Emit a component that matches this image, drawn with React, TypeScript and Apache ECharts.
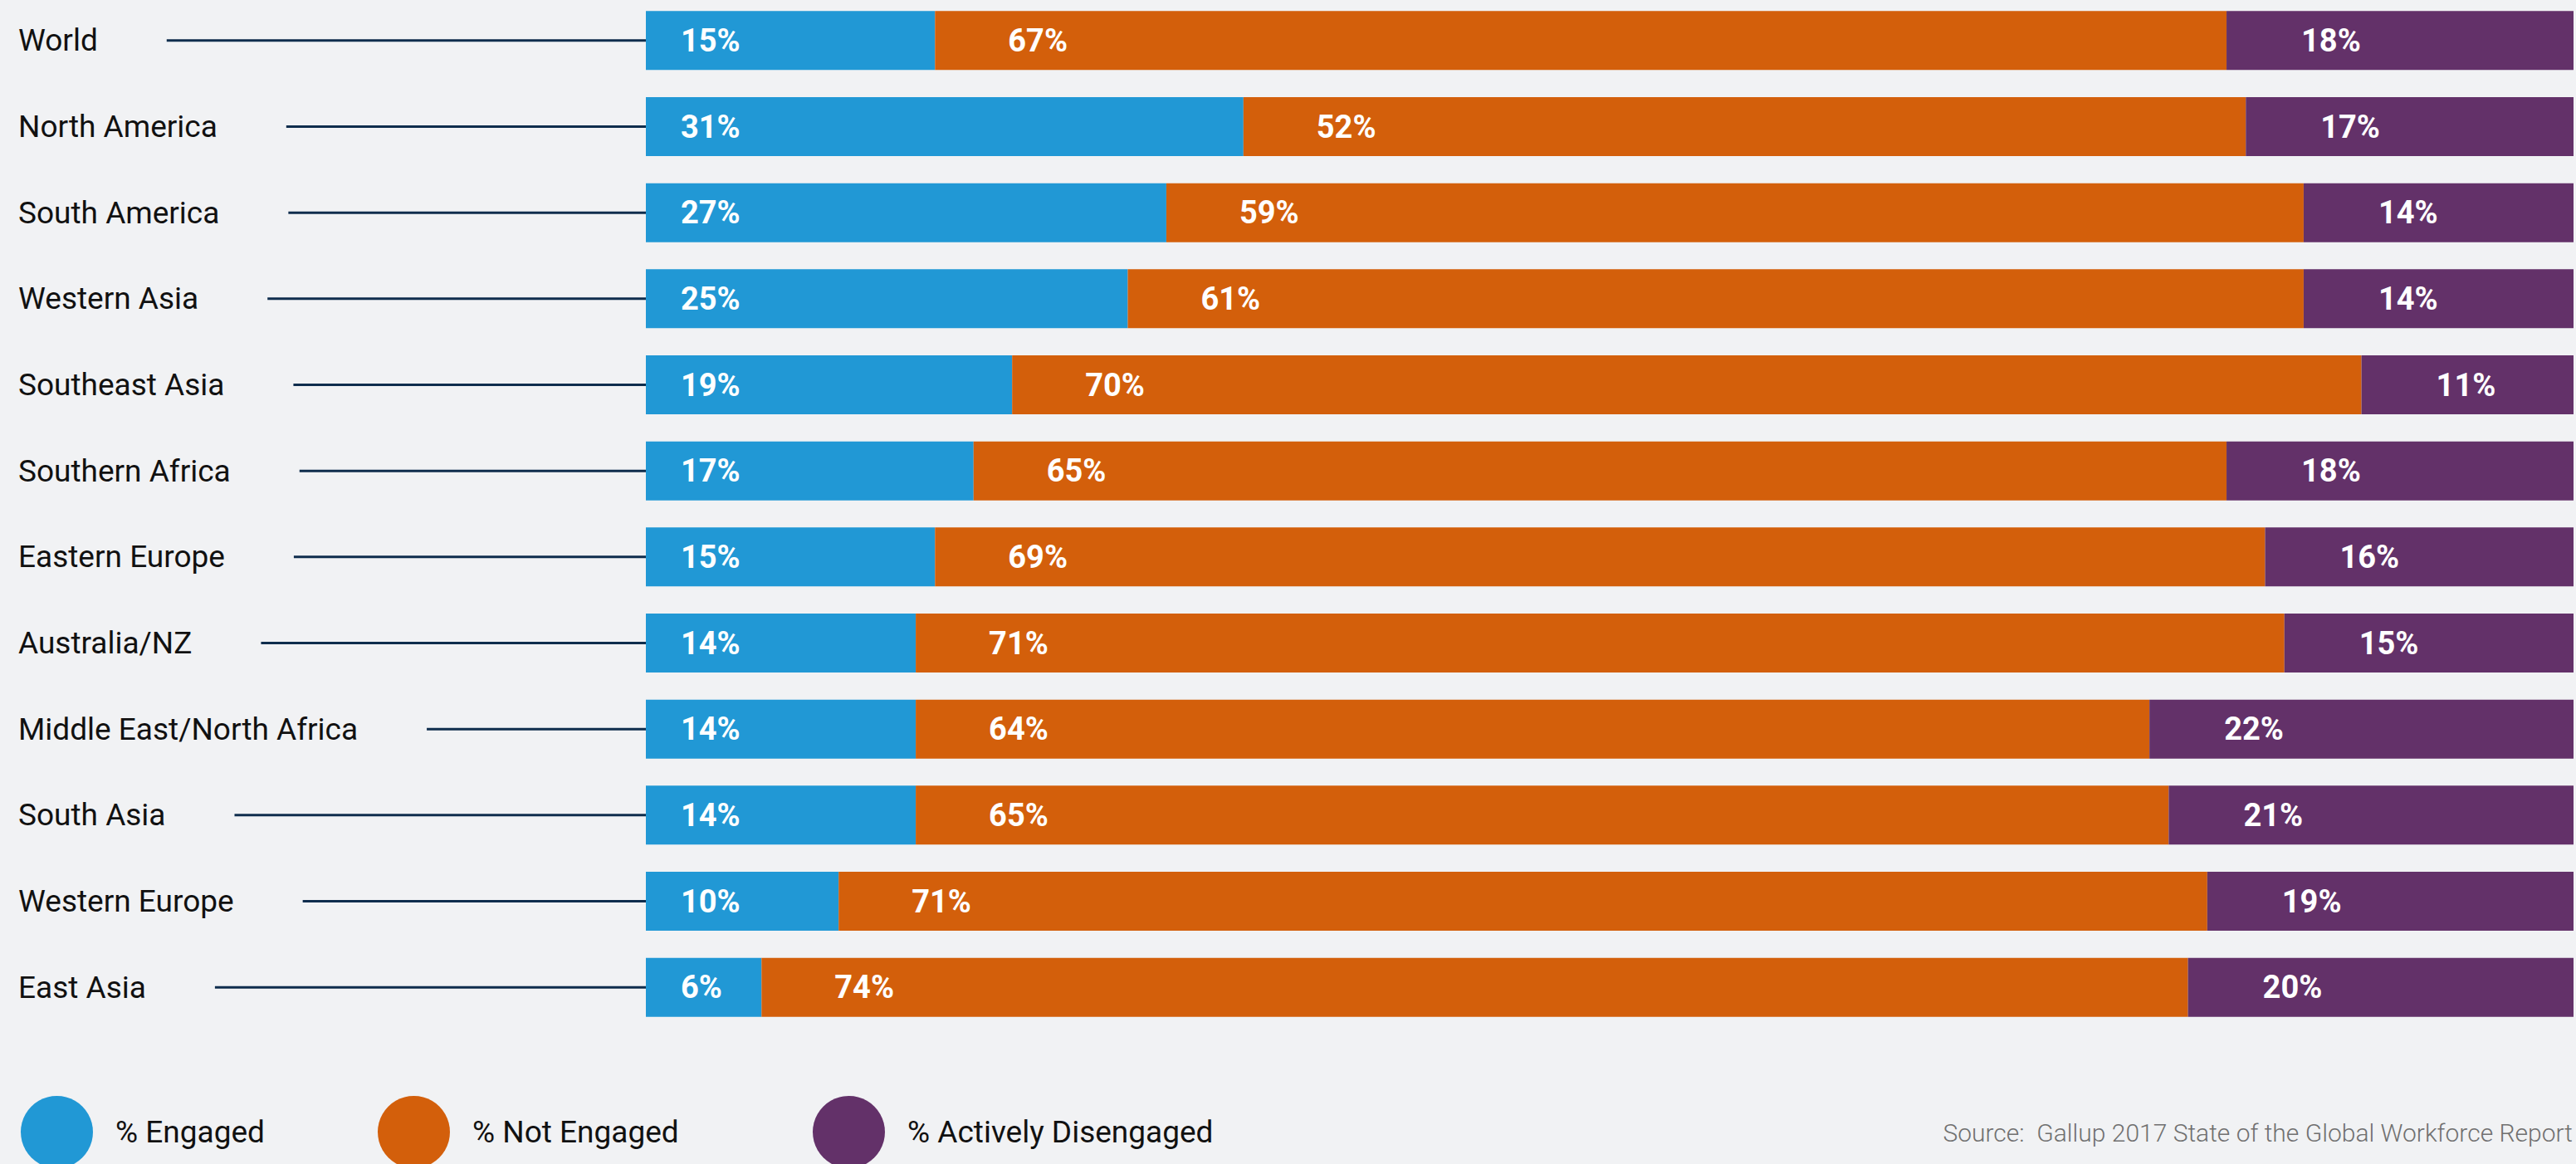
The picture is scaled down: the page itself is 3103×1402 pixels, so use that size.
import React, { useEffect, useRef } from "react";
import * as echarts from "echarts";

const categories = [
  "World",
  "North America",
  "South America",
  "Western Asia",
  "Southeast Asia",
  "Southern Africa",
  "Eastern Europe",
  "Australia/NZ",
  "Middle East/North Africa",
  "South Asia",
  "Western Europe",
  "East Asia",
];
const engaged = [15, 31, 27, 25, 19, 17, 15, 14, 14, 14, 10, 6];
const notEngaged = [67, 52, 59, 61, 70, 65, 69, 71, 64, 65, 71, 74];
const activelyDisengaged = [18, 17, 14, 14, 11, 18, 16, 15, 22, 21, 19, 20];
const seriesNames = ["% Engaged", "% Not Engaged", "% Actively Disengaged"];
const sourceText = "Source:  Gallup 2017 State of the Global Workforce Report";

const BLUE = "#2198d5";
const ORANGE = "#d35f0b";
const PURPLE = "#633169";
const BG = "#f1f2f4";
const LINE = "#0f2d4d";

const W = 3103;
const H = 1402;
const GRID_LEFT = 778;
const LABEL_START = 22;
const NAME_GAP = 83;
const CAT_FONT = 37;

export default function App() {
  const ref = useRef<HTMLDivElement>(null);

  useEffect(() => {
    document.body.style.margin = "0";
    document.body.style.background = BG;
    if (!ref.current) return;
    const chart = echarts.init(ref.current, null, { renderer: "svg", width: W, height: H });

    const canvas = document.createElement("canvas");
    const ctx = canvas.getContext("2d")!;
    ctx.font = `normal normal ${CAT_FONT}px Roboto`;
    const rich: Record<string, any> = {
      n: { fontSize: CAT_FONT, fontFamily: "Roboto", color: "#111111", verticalAlign: "middle" },
      g: { width: NAME_GAP, height: 3 },
    };
    categories.forEach((c, i) => {
      const w = ctx.measureText(c).width;
      rich["l" + i] = {
        width: Math.max(0, GRID_LEFT - LABEL_START - w - NAME_GAP),
        height: 3,
        backgroundColor: LINE,
        verticalAlign: "middle",
      };
    });

    const labelBase = {
      show: true,
      position: "insideLeft" as const,
      color: "#ffffff",
      fontFamily: "Roboto",
      fontWeight: "bold" as const,
      fontSize: 38,
      formatter: "{c}%",
    };

    const legendCommon = (name: string, left: number) => ({
      data: [name],
      left,
      top: 1315,
      orient: "horizontal",
      icon: "circle",
      itemWidth: 87,
      itemHeight: 87,
      selectedMode: false,
      formatter: "{g|}{name}",
      textStyle: {
        fontFamily: "Roboto",
        fontSize: 37,
        color: "#111111",
        rich: { g: { width: 22, height: 2 } },
      },
    });

    chart.setOption({
      animation: false,
      backgroundColor: BG,
      grid: {
        left: GRID_LEFT,
        right: W - 3100,
        top: -3,
        height: 1244,
        containLabel: false,
        outerBoundsMode: "none",
      },
      xAxis: { type: "value", min: 0, max: 100, show: false },
      yAxis: {
        type: "category",
        data: categories,
        inverse: true,
        axisLine: { show: false },
        axisTick: { show: false },
        splitLine: { show: false },
        axisLabel: {
          interval: 0,
          margin: 0,
          align: "right",
          formatter: (value: string, index: number) => `{n|${value}}{g|}{l${index}|}`,
          rich,
        },
      },
      legend: [
        legendCommon(seriesNames[0], 20),
        legendCommon(seriesNames[1], 450),
        legendCommon(seriesNames[2], 974),
      ],
      series: [
        {
          name: seriesNames[0],
          type: "bar",
          stack: "total",
          barWidth: 71,
          data: engaged,
          itemStyle: { color: BLUE },
          label: { ...labelBase, distance: 42 },
        },
        {
          name: seriesNames[1],
          type: "bar",
          stack: "total",
          barWidth: 71,
          data: notEngaged,
          itemStyle: { color: ORANGE },
          label: { ...labelBase, distance: 88 },
        },
        {
          name: seriesNames[2],
          type: "bar",
          stack: "total",
          barWidth: 71,
          data: activelyDisengaged,
          itemStyle: { color: PURPLE },
          label: { ...labelBase, distance: 90 },
        },
      ],
      graphic: [
        {
          type: "text",
          x: 3099,
          y: 1364,
          style: {
            text: sourceText,
            fill: "#707070",
            fontFamily: "Roboto",
            fontWeight: 300,
            fontSize: 30,
            textAlign: "right",
            textVerticalAlign: "middle",
          },
        },
      ],
    });

    return () => {
      chart.dispose();
    };
  }, []);

  return (
    <div
      ref={ref}
      style={{ position: "absolute", left: 0, top: 0, width: W, height: H, background: BG }}
    />
  );
}
